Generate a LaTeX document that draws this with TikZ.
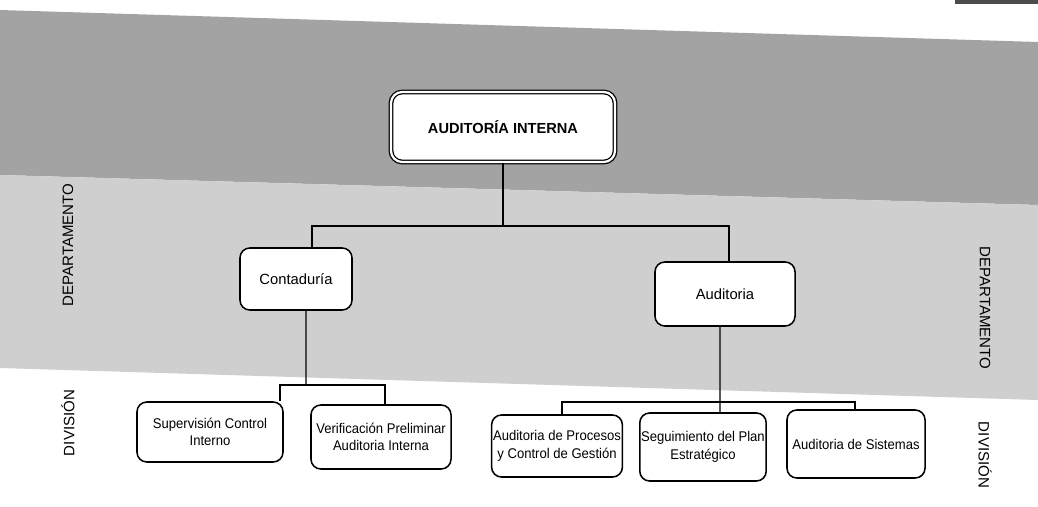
\documentclass[tikz,border=0pt]{standalone}
\usepackage{fontspec}
\setmainfont{Liberation Sans}
\newfontfamily\narrowfont[FakeStretch=0.93]{Liberation Sans}
\begin{document}
\begin{tikzpicture}[x=0.025cm,y=-0.025cm,
  box/.style={draw=black,line width=1.1pt,rounded corners=7pt,fill=white,align=center,
    font=\fontsize{10.5}{12.5}\selectfont,inner sep=1pt},
  dbox/.style={box,font=\narrowfont\fontsize{10}{12.5}\selectfont},
  topbox/.style={draw=black,line width=0.9pt,double=white,double distance=1.6pt,rounded corners=8pt,
    fill=white,align=center,font=\bfseries\fontsize{10.4}{12.5}\selectfont},
  conn/.style={draw=black,line width=0.9pt},
  side/.style={font=\fontsize{10.7}{12.5}\selectfont}]
\useasboundingbox (0,0) rectangle (1038,506);
\fill[white] (0,0) rectangle (1038,506);
% bands
\fill[black!36] (0,10) -- (1038,42) -- (1038,205) -- (0,175) -- cycle;
\fill[black!19] (0,175) -- (1038,205) -- (1038,400) -- (0,368) -- cycle;
\fill[black!70] (955,0) rectangle (1038,4);
% nodes
\node[topbox,minimum width=5.6cm,minimum height=1.75cm] (top) at (503,127) {AUDITORÍA INTERNA};
\node[box,minimum width=2.8cm,minimum height=1.55cm] (cont) at (296,279) {Contaduría};
\node[box,minimum width=3.5cm,minimum height=1.6cm] (aud) at (725,294) {Auditoria};
\node[dbox,minimum width=3.65cm,minimum height=1.5cm] (sup) at (210,432) {Supervisión Control\\Interno};
\node[dbox,minimum width=3.5cm,minimum height=1.6cm] (ver) at (381,437) {Verificación Preliminar\\Auditoria Interna};
\node[dbox,minimum width=3.2cm,minimum height=1.55cm] (pro) at (557,446) {Auditoria de Procesos\\y Control de Gestión};
\node[dbox,minimum width=3.15cm,minimum height=1.7cm] (seg) at (703,447) {Seguimiento del Plan\\Estratégico};
\node[dbox,minimum width=3.45cm,minimum height=1.7cm] (sis) at (856,444) {Auditoria de Sistemas};
% side labels
\node[side,rotate=90] (dep1) at (68,245) {DEPARTAMENTO};
\node[side,rotate=90] (div1) at (68,423) {DIVISIÓN};
\node[side,rotate=-90] (dep2) at (985,308) {DEPARTAMENTO};
\node[side,rotate=-90] (div2) at (985,455) {DIVISIÓN};
% connectors
\coordinate (b1) at (503,226);
\coordinate (b2) at (306,385);
\coordinate (b3) at (720,402);
\draw[conn] (top.south) -- (b1);
\draw[conn] ([xshift=0.4cm]cont.north) |- (b1) -| ([xshift=0.1cm]aud.north);
\draw[conn] ([xshift=0.25cm]cont.south) -- (b2);
\draw[conn] ([xshift=1.75cm]sup.north) |- (b2) -| ([xshift=0.1cm]ver.north);
\draw[conn] ([xshift=-0.125cm]aud.south) -- ([xshift=0.425cm]seg.north);
\draw[conn] ([xshift=0.125cm]pro.north) |- (b3) -| ([xshift=-0.025cm]sis.north);
\end{tikzpicture}
\end{document}
